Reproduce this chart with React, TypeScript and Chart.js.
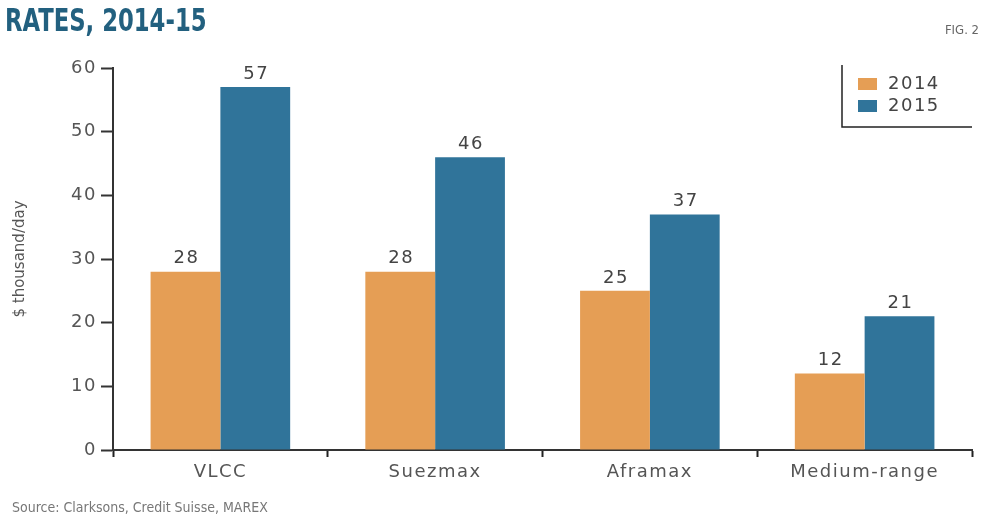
import React, { useEffect, useRef } from "react";
import { Chart, registerables } from "chart.js";

Chart.register(...registerables);

const categories = ["VLCC", "Suezmax", "Aframax", "Medium-range"];
const rates2014 = [28, 28, 25, 12];
const rates2015 = [57, 46, 37, 21];
const seriesLabels = ["2014", "2015"];
const seriesColors = ["#E59E55", "#30749A"];
const yTicks = [0, 10, 20, 30, 40, 50, 60];

const labelFont = "'DejaVu Sans', sans-serif";
const narrowFont = "'Liberation Sans Narrow', 'DejaVu Sans Condensed', 'Liberation Sans', sans-serif";
const wideSpacing = "1.5px";
const textSize = 18;

// Axis title is drawn with normal spacing; tick labels (z = 1) get a little extra tracking
const letterSpacingSwitch = {
  id: "letterSpacingSwitch",
  beforeDraw(chart: any) {
    chart.ctx.letterSpacing = "0px";
  },
  afterDatasetsDraw(chart: any) {
    chart.ctx.letterSpacing = wideSpacing;
  },
  afterDraw(chart: any) {
    chart.ctx.letterSpacing = "0px";
  },
};

// Prints each bar's value just above its top edge
const valueLabels = {
  id: "valueLabels",
  afterDatasetsDraw(chart: any) {
    const ctx = chart.ctx;
    ctx.save();
    ctx.letterSpacing = wideSpacing;
    ctx.font = `${textSize}px ${labelFont}`;
    ctx.fillStyle = "#444";
    ctx.textAlign = "center";
    ctx.textBaseline = "bottom";
    chart.data.datasets.forEach((ds: any, di: number) => {
      const meta = chart.getDatasetMeta(di);
      meta.data.forEach((bar: any, i: number) => {
        ctx.fillText(String(ds.data[i]), bar.x + 1, bar.y - 4);
      });
    });
    ctx.restore();
  },
};

// Legend box with an L-shaped frame in the upper right corner
const cornerLegend = {
  id: "cornerLegend",
  afterDraw(chart: any) {
    const ctx = chart.ctx;
    const area = chart.chartArea;
    const left = area.right - 130;
    const top = area.top - 3;
    const bottom = top + 62;
    ctx.save();
    ctx.strokeStyle = "#222";
    ctx.lineWidth = 1.5;
    ctx.beginPath();
    ctx.moveTo(left, top);
    ctx.lineTo(left, bottom);
    ctx.lineTo(area.right, bottom);
    ctx.stroke();
    ctx.letterSpacing = wideSpacing;
    ctx.font = `${textSize}px ${labelFont}`;
    ctx.textBaseline = "middle";
    ctx.textAlign = "left";
    chart.data.datasets.forEach((ds: any, i: number) => {
      const cy = top + 19 + i * 22;
      ctx.fillStyle = ds.backgroundColor;
      ctx.fillRect(left + 16, cy - 6, 19, 12);
      ctx.fillStyle = "#444";
      ctx.fillText(ds.label, left + 46, cy);
    });
    ctx.restore();
  },
};

export default function App() {
  const canvasRef = useRef<HTMLCanvasElement>(null);

  useEffect(() => {
    if (!canvasRef.current) return;
    const chart = new Chart(canvasRef.current, {
      type: "bar",
      data: {
        labels: categories,
        datasets: [
          { label: seriesLabels[0], data: rates2014, backgroundColor: seriesColors[0] },
          { label: seriesLabels[1], data: rates2015, backgroundColor: seriesColors[1] },
        ],
      },
      plugins: [letterSpacingSwitch, valueLabels, cornerLegend],
      options: {
        animation: false,
        responsive: false,
        maintainAspectRatio: false,
        layout: { padding: { left: 0, right: 11, top: 68, bottom: 0 } },
        datasets: {
          bar: { categoryPercentage: 0.65, barPercentage: 1 },
        },
        plugins: {
          legend: { display: false },
          tooltip: { enabled: false },
        },
        scales: {
          x: {
            afterFit(scale: any) {
              scale.height = 68;
            },
            grid: {
              drawOnChartArea: false,
              drawTicks: true,
              tickLength: 7,
              tickColor: "#222",
              tickWidth: 2,
            },
            border: { color: "#333", width: 2 },
            ticks: {
              z: 1,
              color: "#555",
              font: { family: labelFont, size: textSize },
              padding: 5,
            },
          },
          y: {
            min: 0,
            max: 60,
            afterFit(scale: any) {
              scale.width = 113;
            },
            afterBuildTicks(scale: any) {
              scale.ticks = yTicks.map((v) => ({ value: v }));
            },
            grid: {
              drawOnChartArea: false,
              drawTicks: true,
              tickLength: 12,
              tickColor: "#333",
              tickWidth: 2,
            },
            border: { color: "#333", width: 2 },
            ticks: {
              z: 1,
              color: "#555",
              font: { family: labelFont, size: textSize },
              padding: 4,
            },
            title: {
              display: true,
              text: "$ thousand/day",
              color: "#555",
              font: { family: labelFont, size: 15 },
              padding: { top: 11, bottom: 0 },
            },
          },
        },
      },
    });
    return () => chart.destroy();
  }, []);

  return (
    <div
      style={{
        position: "fixed",
        left: 0,
        top: 0,
        width: 983,
        height: 518,
        background: "#fff",
        overflow: "hidden",
      }}
    >
      <canvas
        ref={canvasRef}
        width={983}
        height={518}
        style={{ position: "absolute", left: 0, top: 0, width: 983, height: 518 }}
      />
      <div
        style={{
          position: "absolute",
          left: 5,
          top: 1,
          fontFamily: narrowFont,
          fontWeight: "bold",
          fontSize: 32,
          color: "#22607F",
          whiteSpace: "nowrap",
          transform: "scaleX(0.79)",
          transformOrigin: "0 0",
        }}
      >
        RATES, 2014-15
      </div>
      <div
        style={{
          position: "absolute",
          right: 4,
          top: 22,
          fontFamily: narrowFont,
          fontSize: 13,
          color: "#666",
          whiteSpace: "nowrap",
        }}
      >
        FIG. 2
      </div>
      <div
        style={{
          position: "absolute",
          left: 12,
          top: 499,
          fontFamily: narrowFont,
          fontSize: 14,
          color: "#777",
          whiteSpace: "nowrap",
        }}
      >
        Source: Clarksons, Credit Suisse, MAREX
      </div>
    </div>
  );
}
